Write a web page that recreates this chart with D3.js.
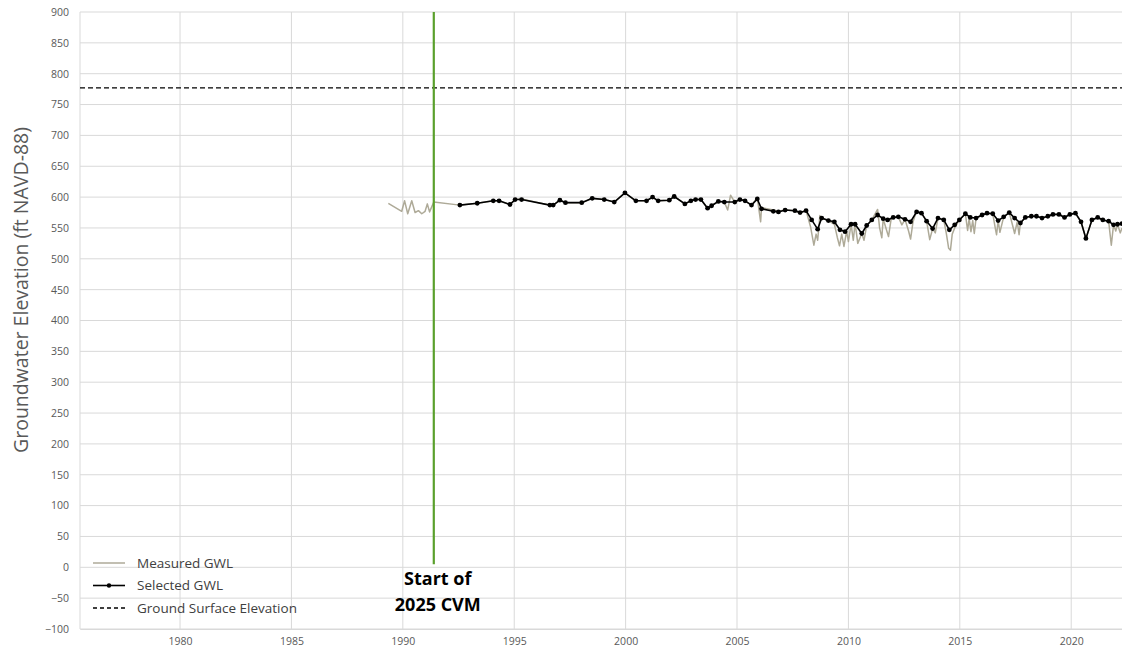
<!DOCTYPE html>
<html>
<head>
<meta charset="utf-8">
<script src="https://cdn.jsdelivr.net/npm/d3@7"></script>
<style>
  html, body { margin: 0; padding: 0; background: #fff; }
  svg { display: block; }
</style>
</head>
<body>
<svg id="chart" width="1122" height="652"></svg>
<script>
// ---- data ----
const xTicks = [1980, 1985, 1990, 1995, 2000, 2005, 2010, 2015, 2020];
const yTicks = [-100, -50, 0, 50, 100, 150, 200, 250, 300, 350, 400, 450, 500, 550, 600, 650, 700, 750, 800, 850, 900];
const groundSurface = 777;
const cvmStartYear = 1991.39;

// Selected GWL: [decimal year, elevation ft]
const selectedGWL = [
  [1992.56, 587], [1993.34, 590], [1994.06, 594], [1994.32, 594], [1994.81, 588],
  [1995.04, 596], [1995.33, 596], [1996.60, 587], [1996.75, 587], [1997.05, 595],
  [1997.30, 591], [1998.03, 591], [1998.50, 598], [1999.04, 596], [1999.49, 592],
  [1999.97, 607], [2000.46, 594], [2000.94, 594], [2001.21, 600], [2001.46, 594],
  [2001.96, 595], [2002.18, 601], [2002.66, 589], [2002.93, 594], [2003.14, 596],
  [2003.38, 596], [2003.68, 582], [2003.86, 586], [2004.16, 593], [2004.43, 592],
  [2004.90, 592], [2005.13, 596], [2005.36, 594], [2005.65, 587], [2005.91, 597],
  [2006.10, 581], [2006.63, 577], [2006.86, 576], [2007.16, 579], [2007.60, 578],
  [2007.83, 575], [2008.10, 578], [2008.35, 563], [2008.62, 548], [2008.80, 566],
  [2009.10, 562], [2009.37, 560], [2009.62, 547], [2009.85, 544], [2010.12, 556],
  [2010.30, 556], [2010.60, 541], [2010.82, 554], [2011.05, 563], [2011.31, 571],
  [2011.56, 565], [2011.76, 563], [2012.01, 567], [2012.24, 568], [2012.54, 564],
  [2012.79, 560], [2013.06, 576], [2013.28, 574], [2013.51, 561], [2013.78, 549],
  [2014.02, 566], [2014.28, 563], [2014.53, 547], [2014.77, 555], [2014.98, 563],
  [2015.25, 573], [2015.47, 567], [2015.73, 566], [2016.00, 571], [2016.22, 574],
  [2016.48, 573], [2016.72, 562], [2016.97, 568], [2017.22, 575], [2017.46, 566],
  [2017.72, 558], [2017.94, 567], [2018.21, 569], [2018.44, 569], [2018.69, 566],
  [2018.95, 569], [2019.18, 572], [2019.45, 572], [2019.70, 567], [2019.94, 572],
  [2020.19, 574], [2020.44, 560], [2020.66, 533], [2020.93, 563], [2021.19, 567],
  [2021.42, 563], [2021.68, 561], [2021.90, 555], [2022.08, 556], [2022.28, 557]
];

// Measured GWL: [decimal year, elevation ft]
const measuredGWL = [
  [1989.35, 590], [1989.95, 577], [1990.08, 594], [1990.22, 573], [1990.40, 594],
  [1990.55, 575], [1990.70, 578], [1990.85, 573], [1991.00, 577], [1991.10, 589],
  [1991.20, 576], [1991.39, 592], [1992.56, 587], [1993.34, 590], [1994.06, 594],
  [1994.32, 594], [1994.81, 588], [1995.04, 596], [1995.33, 597], [1996.60, 587],
  [1996.75, 587], [1997.05, 595], [1997.30, 591], [1998.03, 591], [1998.50, 598],
  [1999.04, 596], [1999.49, 592], [1999.97, 607], [2000.46, 594], [2000.94, 594],
  [2001.21, 600], [2001.46, 594], [2001.96, 595], [2002.18, 601], [2002.66, 589],
  [2002.93, 594], [2003.14, 596], [2003.38, 596], [2003.68, 582], [2003.86, 586],
  [2004.16, 593], [2004.43, 592], [2004.58, 579], [2004.71, 603], [2004.90, 592],
  [2005.13, 596], [2005.36, 594], [2005.65, 587], [2005.91, 599], [2006.06, 560],
  [2006.10, 583], [2006.63, 579], [2006.86, 577], [2007.16, 579], [2007.60, 578],
  [2007.83, 575], [2008.10, 578], [2008.30, 552], [2008.45, 522], [2008.55, 540],
  [2008.62, 530], [2008.72, 570], [2008.80, 566], [2009.10, 562], [2009.37, 556],
  [2009.50, 535], [2009.60, 521], [2009.70, 540], [2009.80, 520], [2009.92, 545],
  [2010.00, 528], [2010.12, 556], [2010.22, 530], [2010.30, 558], [2010.42, 525],
  [2010.60, 541], [2010.70, 530], [2010.82, 554], [2011.05, 563], [2011.31, 580],
  [2011.40, 550], [2011.50, 534], [2011.56, 565], [2011.70, 548], [2011.80, 536],
  [2011.92, 565], [2012.01, 567], [2012.24, 568], [2012.40, 555], [2012.54, 564],
  [2012.70, 545], [2012.79, 532], [2012.90, 560], [2013.06, 578], [2013.28, 574],
  [2013.51, 561], [2013.65, 531], [2013.78, 549], [2013.90, 542], [2014.02, 566],
  [2014.28, 563], [2014.40, 540], [2014.50, 517], [2014.58, 514], [2014.66, 540],
  [2014.77, 550], [2014.98, 563], [2015.25, 573], [2015.35, 546], [2015.42, 565],
  [2015.50, 544], [2015.58, 562], [2015.65, 541], [2015.73, 566], [2016.00, 571],
  [2016.22, 574], [2016.48, 573], [2016.60, 548], [2016.65, 539], [2016.72, 562],
  [2016.80, 543], [2016.97, 568], [2017.22, 575], [2017.40, 550], [2017.46, 541],
  [2017.58, 560], [2017.66, 539], [2017.72, 558], [2017.94, 567], [2018.21, 569],
  [2018.44, 569], [2018.69, 566], [2018.95, 569], [2019.18, 572], [2019.45, 572],
  [2019.70, 567], [2019.94, 572], [2020.19, 574], [2020.44, 560], [2020.66, 533],
  [2020.93, 563], [2021.19, 567], [2021.42, 563], [2021.68, 561], [2021.80, 522],
  [2021.90, 555], [2022.00, 545], [2022.08, 556], [2022.20, 542], [2022.28, 550]
];

// ---- layout ----
const svg = d3.select('#chart');
const plot = { left: 80, right: 1122, top: 12, bottom: 629 };

const x = d3.scaleLinear().domain([1975.51, 2022.28]).range([plot.left, plot.right]);
const y = d3.scaleLinear().domain([-100, 900]).range([plot.bottom, plot.top]);

const font = "'Open Sans', 'Noto Sans', sans-serif";
const gridColor = '#d9d9d9';

// horizontal grid
svg.append('g').selectAll('line').data(yTicks).join('line')
  .attr('x1', plot.left).attr('x2', plot.right)
  .attr('y1', d => y(d)).attr('y2', d => y(d))
  .attr('stroke', gridColor).attr('stroke-width', 1);

// vertical grid
svg.append('g').selectAll('line').data(xTicks).join('line')
  .attr('x1', d => x(d)).attr('x2', d => x(d))
  .attr('y1', plot.top).attr('y2', plot.bottom)
  .attr('stroke', gridColor).attr('stroke-width', 1);

// left axis line
svg.append('line')
  .attr('x1', plot.left).attr('x2', plot.left)
  .attr('y1', plot.top).attr('y2', plot.bottom)
  .attr('stroke', gridColor).attr('stroke-width', 1);

// y axis
const yAxis = d3.axisLeft(y).tickValues(yTicks).tickSize(0).tickPadding(11);
const gy = svg.append('g').attr('transform', `translate(${plot.left},0)`).call(yAxis);
gy.select('.domain').remove();
gy.selectAll('text').attr('font-family', font).attr('font-size', 10.5).attr('fill', '#595959');

// x axis
const xAxis = d3.axisBottom(x).tickValues(xTicks).tickFormat(d3.format('d')).tickSize(0).tickPadding(9);
const gx = svg.append('g').attr('transform', `translate(0,${plot.bottom})`).call(xAxis);
gx.select('.domain').attr('stroke', gridColor);
gx.selectAll('text').attr('font-family', font).attr('font-size', 10.5).attr('fill', '#595959');

// y axis title
svg.append('text')
  .attr('transform', `translate(28,290) rotate(-90)`)
  .attr('text-anchor', 'middle')
  .attr('font-family', font).attr('font-size', 19.5).attr('fill', '#595959')
  .text('Groundwater Elevation (ft NAVD-88)');

// ground surface line
svg.append('line')
  .attr('x1', plot.left).attr('x2', plot.right)
  .attr('y1', y(groundSurface)).attr('y2', y(groundSurface))
  .attr('stroke', '#000').attr('stroke-width', 1.3).attr('stroke-dasharray', '5,3');

const line = d3.line().x(d => x(d[0])).y(d => y(d[1]));

// measured
svg.append('path').datum(measuredGWL)
  .attr('d', line).attr('fill', 'none')
  .attr('stroke', '#aeaa98').attr('stroke-width', 1.5).attr('stroke-linejoin', 'round');

// selected
svg.append('path').datum(selectedGWL)
  .attr('d', line).attr('fill', 'none')
  .attr('stroke', '#000').attr('stroke-width', 1.6).attr('stroke-linejoin', 'round');
svg.append('g').selectAll('circle').data(selectedGWL).join('circle')
  .attr('cx', d => x(d[0])).attr('cy', d => y(d[1])).attr('r', 2.4).attr('fill', '#000');

// CVM start line
svg.append('line')
  .attr('x1', x(cvmStartYear)).attr('x2', x(cvmStartYear))
  .attr('y1', plot.top).attr('y2', y(5))
  .attr('stroke', '#5aa02c').attr('stroke-width', 2.2);

svg.append('text')
  .attr('x', x(cvmStartYear) + 4).attr('y', 585)
  .attr('text-anchor', 'middle')
  .attr('font-family', font).attr('font-size', 18).attr('font-weight', 'bold').attr('fill', '#000')
  .text('Start of');
svg.append('text')
  .attr('x', x(cvmStartYear) + 4).attr('y', 611)
  .attr('text-anchor', 'middle')
  .attr('font-family', font).attr('font-size', 18).attr('font-weight', 'bold').attr('fill', '#000')
  .text('2025 CVM');

// legend
const legendItems = [
  { label: 'Measured GWL', color: '#aeaa98', dash: null, dot: false, w: 1.5 },
  { label: 'Selected GWL', color: '#000', dash: null, dot: true, w: 1.6 },
  { label: 'Ground Surface Elevation', color: '#000', dash: '4,3', dot: false, w: 1.3 }
];
const lg = svg.append('g');
legendItems.forEach((it, i) => {
  const ly = 563 + i * 22.5;
  lg.append('line')
    .attr('x1', 93).attr('x2', 125).attr('y1', ly).attr('y2', ly)
    .attr('stroke', it.color).attr('stroke-width', it.w)
    .attr('stroke-dasharray', it.dash);
  if (it.dot) lg.append('circle').attr('cx', 109).attr('cy', ly).attr('r', 2.2).attr('fill', '#000');
  lg.append('text')
    .attr('x', 137).attr('y', ly + 4.5)
    .attr('font-family', font).attr('font-size', 13.5).attr('fill', '#404040')
    .text(it.label);
});
</script>
</body>
</html>
